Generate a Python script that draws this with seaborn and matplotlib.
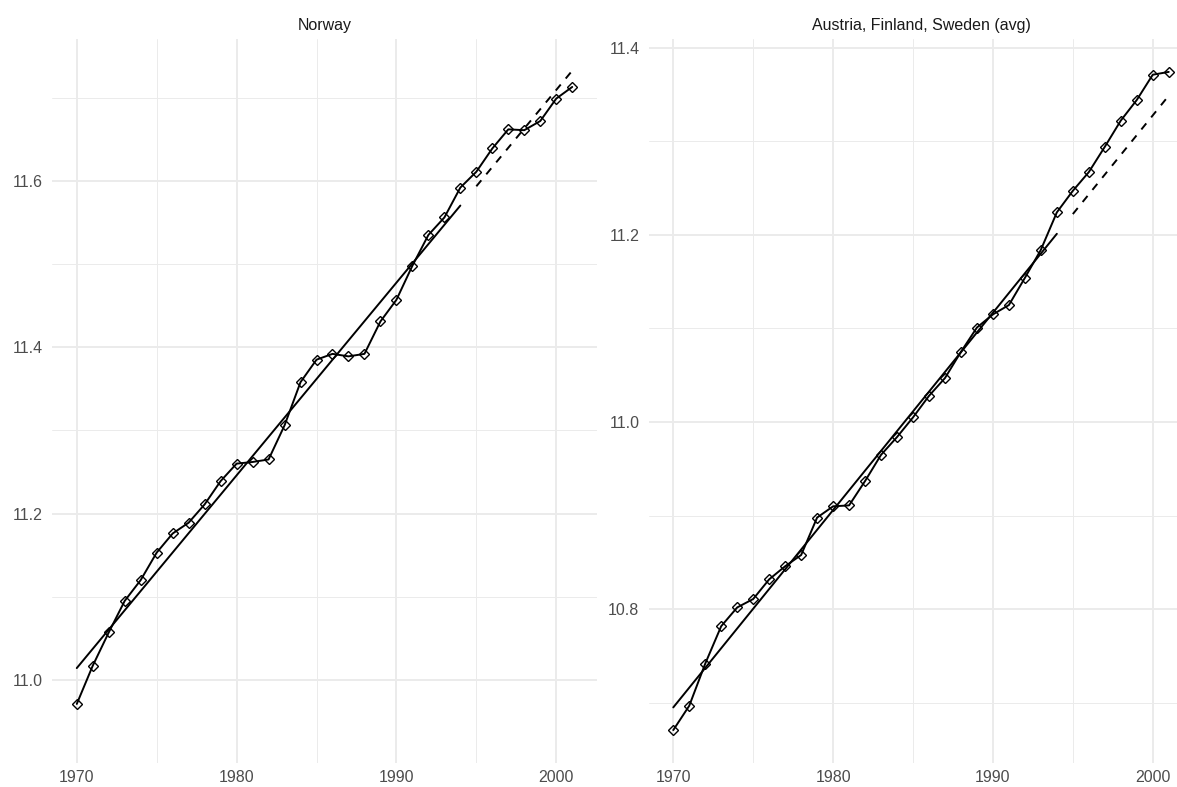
import numpy as np
import pandas as pd
import matplotlib
matplotlib.use("Agg")
import matplotlib.pyplot as plt
import seaborn as sns

years = list(range(1970, 2002))
norway = [10.971, 11.017, 11.057, 11.095, 11.120, 11.153, 11.176, 11.189, 11.211, 11.239,
          11.260, 11.262, 11.265, 11.306, 11.358, 11.385, 11.392, 11.389, 11.392, 11.431,
          11.457, 11.498, 11.535, 11.556, 11.592, 11.611, 11.639, 11.662, 11.661, 11.672,
          11.699, 11.713]
afs_avg = [10.671, 10.697, 10.742, 10.782, 10.802, 10.811, 10.832, 10.846, 10.858, 10.898,
           10.910, 10.911, 10.937, 10.965, 10.984, 11.005, 11.028, 11.047, 11.075, 11.101,
           11.115, 11.125, 11.154, 11.184, 11.224, 11.247, 11.267, 11.294, 11.322, 11.344,
           11.371, 11.374]
panel_titles = ["Norway", "Austria, Finland, Sweden (avg)"]
fit_end_year = 1994
x_ticks = [1970, 1980, 1990, 2000]
x_minor = [1975, 1985, 1995]
y_ticks = [[11.0, 11.2, 11.4, 11.6], [10.8, 11.0, 11.2, 11.4]]
y_minor = [[10.9, 11.1, 11.3, 11.5, 11.7], [10.7, 10.9, 11.1, 11.3]]

sns.set_theme(style="white")
plt.rcParams["font.family"] = ["Liberation Sans", "DejaVu Sans"]

W, H = 1177, 787
fig = plt.figure(figsize=(W / 100, H / 100), dpi=100)
fig.patch.set_facecolor("white")

pw = 545
top, bottom = 39, 763
lefts = [52, 648.5]

grid_col = "#EBEBEB"
lw = 1.4
for i, (vals, title) in enumerate(zip([norway, afs_avg], panel_titles)):
    ax = fig.add_axes([lefts[i] / W, (H - bottom) / H, pw / W, (bottom - top) / H])
    ax.set_facecolor("white")
    df = pd.DataFrame({"year": years, "value": vals})
    fit_df = df[df["year"] <= fit_end_year]
    slope, intercept = np.polyfit(fit_df["year"], fit_df["value"], 1)
    in_df = pd.DataFrame({"year": fit_df["year"]})
    in_df["trend"] = intercept + slope * in_df["year"]
    out_df = pd.DataFrame({"year": df[df["year"] > fit_end_year]["year"]})
    out_df["trend"] = intercept + slope * out_df["year"]

    sns.lineplot(data=in_df, x="year", y="trend", ax=ax, color="black", lw=lw)
    sns.lineplot(data=out_df, x="year", y="trend", ax=ax, color="black", lw=lw,
                 linestyle=(0, (4, 4)))
    sns.lineplot(data=df, x="year", y="value", ax=ax, color="black", lw=lw,
                 marker="D", markersize=5.5, markerfacecolor="none",
                 markeredgecolor="black", markeredgewidth=1.0)

    allv = list(vals) + list(out_df["trend"]) + list(in_df["trend"])
    lo, hi = min(allv), max(allv)
    pad = 0.05 * (hi - lo)
    ax.set_ylim(lo - pad, hi + pad)
    ax.set_xlim(1970 - 0.05 * 31, 2001 + 0.05 * 31)

    ax.set_xticks(x_ticks)
    ax.set_xticks(x_minor, minor=True)
    ax.set_yticks(y_ticks[i])
    ax.set_yticks(y_minor[i], minor=True)
    ax.set_xticklabels([str(t) for t in x_ticks])
    ax.set_yticklabels([f"{t:.1f}" for t in y_ticks[i]])
    ax.grid(True, which="major", color=grid_col, lw=1.4)
    ax.grid(True, which="minor", color=grid_col, lw=0.7)
    ax.set_axisbelow(True)
    ax.tick_params(axis="both", which="both", length=0, labelsize=11.5,
                   labelcolor="#4D4D4D")
    ax.tick_params(axis="x", pad=5)
    ax.tick_params(axis="y", pad=6.5)
    for s in ax.spines.values():
        s.set_visible(False)
    ax.set_xlabel("")
    ax.set_ylabel("")
    ax.set_title(title, fontsize=11.5, color="#1A1A1A", pad=6.5)

fig.savefig("out.png", dpi=100, facecolor="white")
